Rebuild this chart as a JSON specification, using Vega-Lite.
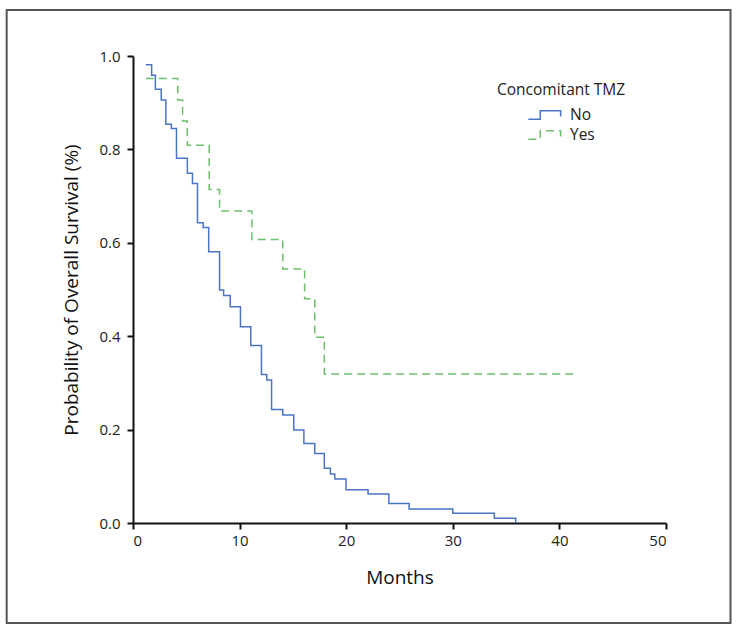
{
  "$schema": "https://vega.github.io/schema/vega-lite/v6.json",
  "width": 533,
  "height": 467,
  "autosize": "none",
  "padding": {"left": 133, "top": 56, "right": 76, "bottom": 112},
  "background": "white",
  "config": {
    "view": {"stroke": null},
    "font": "Open Sans",
    "axis": {
      "grid": false,
      "domainColor": "#111",
      "domainWidth": 2,
      "tickColor": "#111",
      "tickWidth": 2,
      "tickSize": 6,
      "labelFont": "Open Sans",
      "labelFontSize": 15,
      "labelColor": "#222",
      "titleFont": "Open Sans",
      "titleFontWeight": "normal",
      "titleColor": "#111"
    },
    "legend": {
      "orient": "none",
      "legendX": 364,
      "legendY": 27,
      "padding": 0,
      "titleFont": "Open Sans",
      "titleFontSize": 15.5,
      "titleFontWeight": "normal",
      "titleColor": "#222",
      "titlePadding": 6,
      "labelFont": "Open Sans",
      "labelFontSize": 15.5,
      "labelColor": "#222",
      "symbolType": "M-1.7,0.44H-0.45V-0.44H1.7V0.15",
      "symbolSize": 361,
      "symbolStrokeWidth": 1.5,
      "symbolFillColor": "transparent",
      "symbolOffset": 37,
      "labelOffset": 15,
      "rowPadding": 1
    }
  },
  "layer": [
    {
      "data": {"values": [{"frame": 1}]},
      "mark": {"type": "rect", "fill": null, "stroke": "#555", "strokeWidth": 2, "clip": false},
      "encoding": {
        "x": {"datum": -11.85, "type": "quantitative", "scale": {"domain": [0, 50], "nice": false, "zero": false}},
        "x2": {"datum": 56.05},
        "y": {"datum": 1.0985, "type": "quantitative", "scale": {"domain": [0, 1], "nice": false, "zero": false}},
        "y2": {"datum": -0.214}
      }
    },
    {
      "data": {
        "values": [
          {"month": 1.2, "surv": 0.981, "group": "No"},
          {"month": 1.75, "surv": 0.959, "group": "No"},
          {"month": 2.1, "surv": 0.929, "group": "No"},
          {"month": 2.65, "surv": 0.906, "group": "No"},
          {"month": 3.08, "surv": 0.854, "group": "No"},
          {"month": 3.6, "surv": 0.845, "group": "No"},
          {"month": 4.08, "surv": 0.781, "group": "No"},
          {"month": 5.1, "surv": 0.749, "group": "No"},
          {"month": 5.58, "surv": 0.727, "group": "No"},
          {"month": 6.05, "surv": 0.643, "group": "No"},
          {"month": 6.58, "surv": 0.633, "group": "No"},
          {"month": 7.1, "surv": 0.581, "group": "No"},
          {"month": 8.12, "surv": 0.499, "group": "No"},
          {"month": 8.5, "surv": 0.487, "group": "No"},
          {"month": 9.12, "surv": 0.463, "group": "No"},
          {"month": 10.08, "surv": 0.42, "group": "No"},
          {"month": 11.05, "surv": 0.38, "group": "No"},
          {"month": 12.05, "surv": 0.318, "group": "No"},
          {"month": 12.55, "surv": 0.306, "group": "No"},
          {"month": 13.0, "surv": 0.243, "group": "No"},
          {"month": 14.05, "surv": 0.231, "group": "No"},
          {"month": 15.08, "surv": 0.199, "group": "No"},
          {"month": 16.03, "surv": 0.17, "group": "No"},
          {"month": 17.05, "surv": 0.149, "group": "No"},
          {"month": 17.95, "surv": 0.117, "group": "No"},
          {"month": 18.52, "surv": 0.105, "group": "No"},
          {"month": 18.93, "surv": 0.094, "group": "No"},
          {"month": 19.98, "surv": 0.071, "group": "No"},
          {"month": 22.05, "surv": 0.062, "group": "No"},
          {"month": 24.0, "surv": 0.042, "group": "No"},
          {"month": 25.9, "surv": 0.03, "group": "No"},
          {"month": 30.0, "surv": 0.021, "group": "No"},
          {"month": 33.9, "surv": 0.01, "group": "No"},
          {"month": 35.9, "surv": 0.0, "group": "No"},
          {"month": 1.2, "surv": 0.952, "group": "Yes"},
          {"month": 4.2, "surv": 0.906, "group": "Yes"},
          {"month": 4.65, "surv": 0.861, "group": "Yes"},
          {"month": 5.09, "surv": 0.809, "group": "Yes"},
          {"month": 7.15, "surv": 0.714, "group": "Yes"},
          {"month": 8.12, "surv": 0.668, "group": "Yes"},
          {"month": 11.15, "surv": 0.607, "group": "Yes"},
          {"month": 14.05, "surv": 0.544, "group": "Yes"},
          {"month": 16.1, "surv": 0.48, "group": "Yes"},
          {"month": 17.05, "surv": 0.398, "group": "Yes"},
          {"month": 17.95, "surv": 0.319, "group": "Yes"},
          {"month": 41.4, "surv": 0.319, "group": "Yes"}
        ]
      },
      "mark": {"type": "line", "interpolate": "step-after", "strokeWidth": 1.5},
      "encoding": {
        "x": {
          "field": "month",
          "type": "quantitative",
          "title": "Months",
          "axis": {"values": [0, 10, 20, 30, 40, 50], "titleFontSize": 19, "titlePadding": 20, "labelPadding": 4}
        },
        "y": {
          "field": "surv",
          "type": "quantitative",
          "title": "Probability of Overall Survival (%)",
          "axis": {"values": [0, 0.2, 0.4, 0.6, 0.8, 1.0], "format": ".1f", "titleFontSize": 19, "titlePadding": 17, "labelPadding": 7}
        },
        "color": {
          "field": "group",
          "type": "nominal",
          "title": "Concomitant TMZ",
          "scale": {"domain": ["No", "Yes"], "range": ["#4a74c6", "#6cc06c"]}
        },
        "strokeDash": {
          "field": "group",
          "type": "nominal",
          "title": "Concomitant TMZ",
          "scale": {"domain": ["No", "Yes"], "range": [[1, 0], [8, 5]]}
        }
      }
    }
  ]
}
